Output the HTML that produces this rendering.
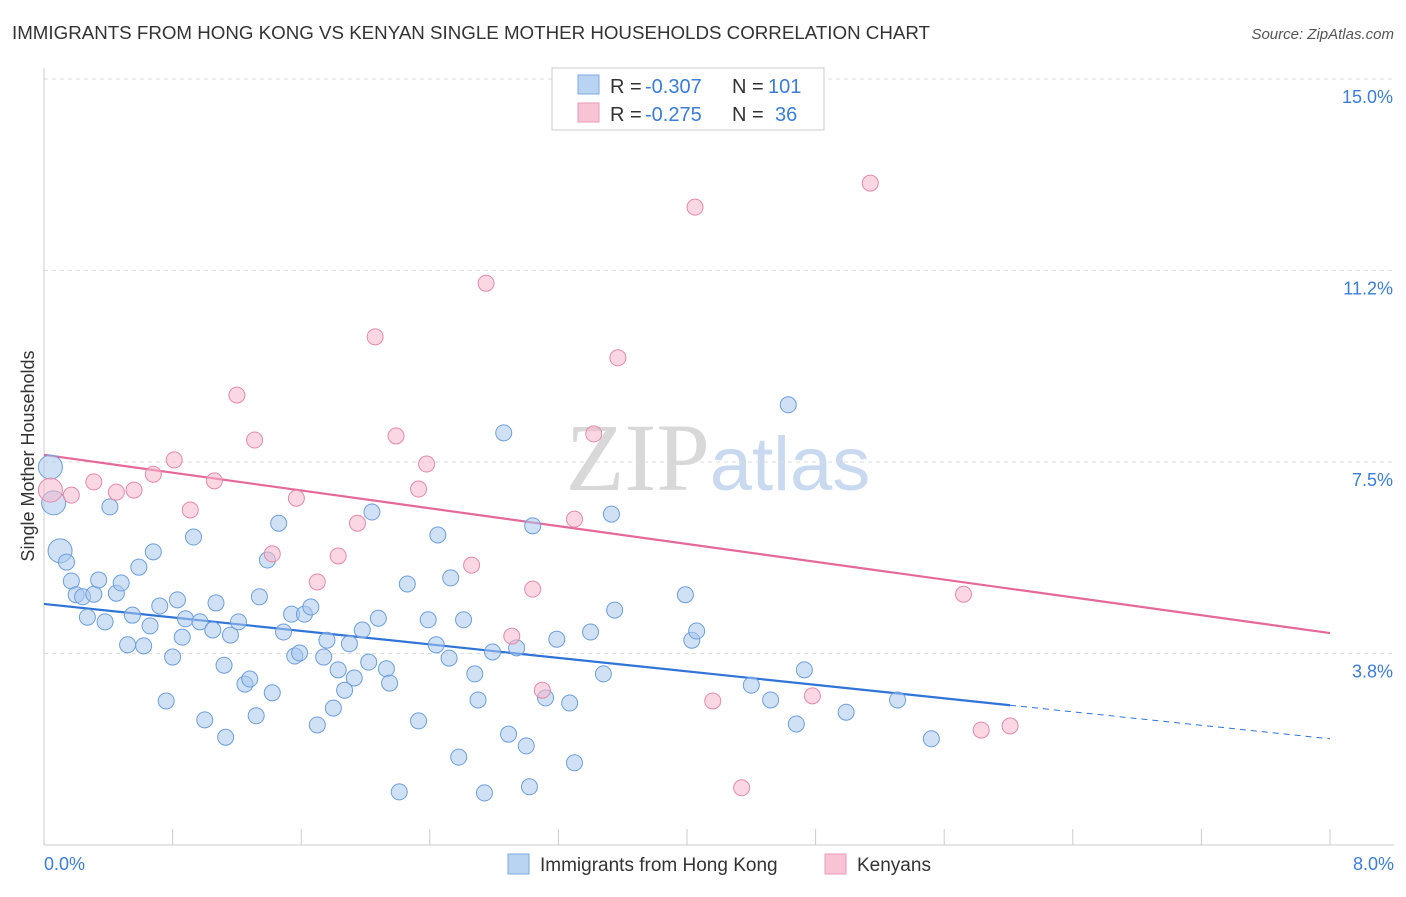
<!DOCTYPE html>
<html><head><meta charset="utf-8"><style>
body{margin:0;background:#fff;font-family:"Liberation Sans",sans-serif}
svg text{font-family:"Liberation Sans",sans-serif}
</style></head><body>
<svg id="chart" width="1406" height="892" xmlns="http://www.w3.org/2000/svg">
<text x="12" y="39" font-size="18" fill="#333" textLength="918" lengthAdjust="spacingAndGlyphs">IMMIGRANTS FROM HONG KONG VS KENYAN SINGLE MOTHER HOUSEHOLDS CORRELATION CHART</text>
<text x="1394" y="39" font-size="15" fill="#555" text-anchor="end" font-style="italic">Source: ZipAtlas.com</text>
<text x="718" y="490" font-size="96" text-anchor="middle" fill="#ddd"><tspan font-family="Liberation Serif" fill="#d8d8d8">ZIP</tspan><tspan fill="#c9daf0" font-size="76">atlas</tspan></text>
<g id="grid"></g><g id="axes"></g><g id="lines"></g><g id="pts"></g>
<text transform="translate(34,456) rotate(-90)" font-size="18" fill="#333" text-anchor="middle">Single Mother Households</text>
<g>
<rect x="552" y="68" width="272" height="62" fill="#fff" stroke="#ccc"/>
<rect x="578" y="75" width="21" height="19" fill="#b9d3f3" stroke="#7ea9df"/>
<rect x="578" y="103" width="21" height="19" fill="#f8c4d4" stroke="#eb98b4"/>
<text x="610" y="93" font-size="20" fill="#333">R =</text>
<text x="645" y="93" font-size="20" fill="#3b7dd8">-0.307</text>
<text x="732" y="93" font-size="20" fill="#333">N =</text>
<text x="768" y="93" font-size="20" fill="#3b7dd8">101</text>
<text x="610" y="121" font-size="20" fill="#333">R =</text>
<text x="645" y="121" font-size="20" fill="#3b7dd8">-0.275</text>
<text x="732" y="121" font-size="20" fill="#333">N =</text>
<text x="775" y="121" font-size="20" fill="#3b7dd8">36</text>
</g>
<g>
<rect x="508" y="854" width="21" height="20" fill="#b9d3f3" stroke="#7ea9df"/>
<text x="540" y="871" font-size="19" fill="#333">Immigrants from Hong Kong</text>
<rect x="825" y="854" width="21" height="20" fill="#f8c4d4" stroke="#eb98b4"/>
<text x="857" y="871" font-size="19" fill="#333">Kenyans</text>
</g>
</svg>
<script>
const yTicks=[3.75,7.5,11.25,15];
const yTickLabels=["3.8%","7.5%","11.2%","15.0%"];
const xTickLabels=["0.0%","8.0%"];
const blueX=[0.04,0.06,0.10,0.14,0.17,0.20,0.24,0.27,0.31,0.34,0.38,0.41,0.45,0.48,0.52,0.55,0.59,0.62,0.66,0.68,0.72,0.76,0.80,0.83,0.86,0.88,0.93,0.97,1.00,1.05,1.07,1.12,1.13,1.16,1.21,1.25,1.28,1.32,1.34,1.39,1.42,1.46,1.49,1.54,1.56,1.59,1.62,1.66,1.70,1.74,1.76,1.80,1.83,1.87,1.90,1.93,1.98,2.02,2.08,2.13,2.15,2.04,2.21,2.26,2.33,2.39,2.44,2.45,2.52,2.53,2.58,2.61,2.68,2.70,2.74,2.79,2.86,2.89,2.94,3.00,3.02,3.04,3.12,3.19,3.27,3.30,3.40,3.48,3.53,3.55,3.99,4.03,4.06,4.40,4.52,4.63,4.68,4.73,4.99,5.31,5.52];
const blueY=[7.40,6.70,5.76,5.54,5.17,4.90,4.86,4.46,4.91,5.19,4.37,6.62,4.93,5.13,3.92,4.50,5.44,3.90,4.29,5.74,4.68,2.82,3.68,4.80,4.07,4.43,6.03,4.37,2.45,4.21,4.74,3.52,2.11,4.11,4.37,3.15,3.25,2.53,4.86,5.58,2.98,6.30,4.17,4.52,3.70,3.76,4.52,4.66,2.35,3.68,4.01,2.68,3.43,3.03,3.94,3.27,4.21,3.58,4.44,3.45,3.17,6.52,1.04,5.11,2.43,4.41,3.92,6.07,3.66,5.23,1.72,4.41,3.35,2.84,1.02,3.78,8.07,2.17,3.86,1.94,1.14,6.25,2.88,4.03,2.78,1.61,4.17,3.35,6.48,4.60,4.90,4.01,4.19,3.13,2.84,8.62,2.37,3.43,2.60,2.84,2.08];
const pinkX=[0.04,0.17,0.31,0.45,0.56,0.68,0.81,0.91,1.06,1.20,1.31,1.42,1.57,1.70,1.83,1.95,2.06,2.19,2.33,2.38,2.66,2.75,2.91,3.04,3.10,3.30,3.42,3.57,4.05,4.16,4.34,4.78,5.14,5.72,5.83,6.01];
const pinkY=[6.95,6.85,7.11,6.91,6.95,7.26,7.54,6.56,7.13,8.81,7.93,5.70,6.79,5.15,5.66,6.30,9.95,8.01,6.97,7.46,5.48,11.00,4.09,5.01,3.03,6.38,8.05,9.54,12.49,2.82,1.12,2.92,12.96,4.91,2.25,2.33];
const blueTrend=[4.72,2.08];
const pinkTrend=[7.64,4.15];
const xs=v=>44+v*160.75, ys=v=>845-v*51.07;
const NS="http://www.w3.org/2000/svg";
function mk(p,t,a){const e=document.createElementNS(NS,t);for(const k in a)e.setAttribute(k,a[k]);p.appendChild(e);return e;}
const G=document.getElementById('grid'),A=document.getElementById('axes'),L=document.getElementById('lines'),P=document.getElementById('pts');
yTicks.forEach((t,i)=>{
 const l=mk(G,'line',{x1:44,x2:1394,y1:ys(t),y2:ys(t),stroke:'#ddd','stroke-dasharray':'4,4'});
 
 
 const tx=mk(A,'text',{x:1393,y:ys(t)+24,'font-size':18,fill:'#3b7dd8','text-anchor':'end'});tx.textContent=yTickLabels[i];
 
 
});
mk(A,'line',{x1:44,x2:44,y1:68,y2:845,stroke:'#ccc'});
mk(A,'line',{x1:44,x2:1394,y1:845,y2:845,stroke:'#ccc'});
for(let i=0;i<=10;i++){const x=xs(i*0.8);const t=mk(A,'line',{x1:x,x2:x,y1:829,y2:845,stroke:'#ccc'});
 
 }
[[0,44,'start'],[8,1394,'end']].forEach((d,i)=>{const t=mk(A,'text',{x:d[1],y:870,'font-size':18,fill:'#3b7dd8','text-anchor':d[2]});t.textContent=xTickLabels[i];
 
 });
function pt(x,y,big,fill,stroke,name){const c=mk(P,'circle',{cx:xs(x),cy:ys(y),r:big?12:8,fill:fill,'fill-opacity':0.55,stroke:stroke,'stroke-width':1});
 
 }
blueX.forEach((x,i)=>pt(x,blueY[i],i<3,'#a9c8ef','#6d9fdc','hong-kong-point'));
pinkX.forEach((x,i)=>pt(x,pinkY[i],i<1,'#f6b6ca','#e58aa8','kenyan-point'));
const bx=6.01;const by=blueTrend[0]+(blueTrend[1]-blueTrend[0])*bx/8;
const b1=mk(L,'line',{x1:xs(0),y1:ys(blueTrend[0]),x2:xs(bx),y2:ys(by),stroke:'#2f74d6','stroke-width':2.2});


const b2=mk(L,'line',{x1:xs(bx),y1:ys(by),x2:xs(8),y2:ys(blueTrend[1]),stroke:'#2f74d6','stroke-width':1,'stroke-dasharray':'6,5'});


const p1=mk(L,'line',{x1:xs(0),y1:ys(pinkTrend[0]),x2:xs(8),y2:ys(pinkTrend[1]),stroke:'#e4699a','stroke-width':2.2});


</script>
</body></html>
